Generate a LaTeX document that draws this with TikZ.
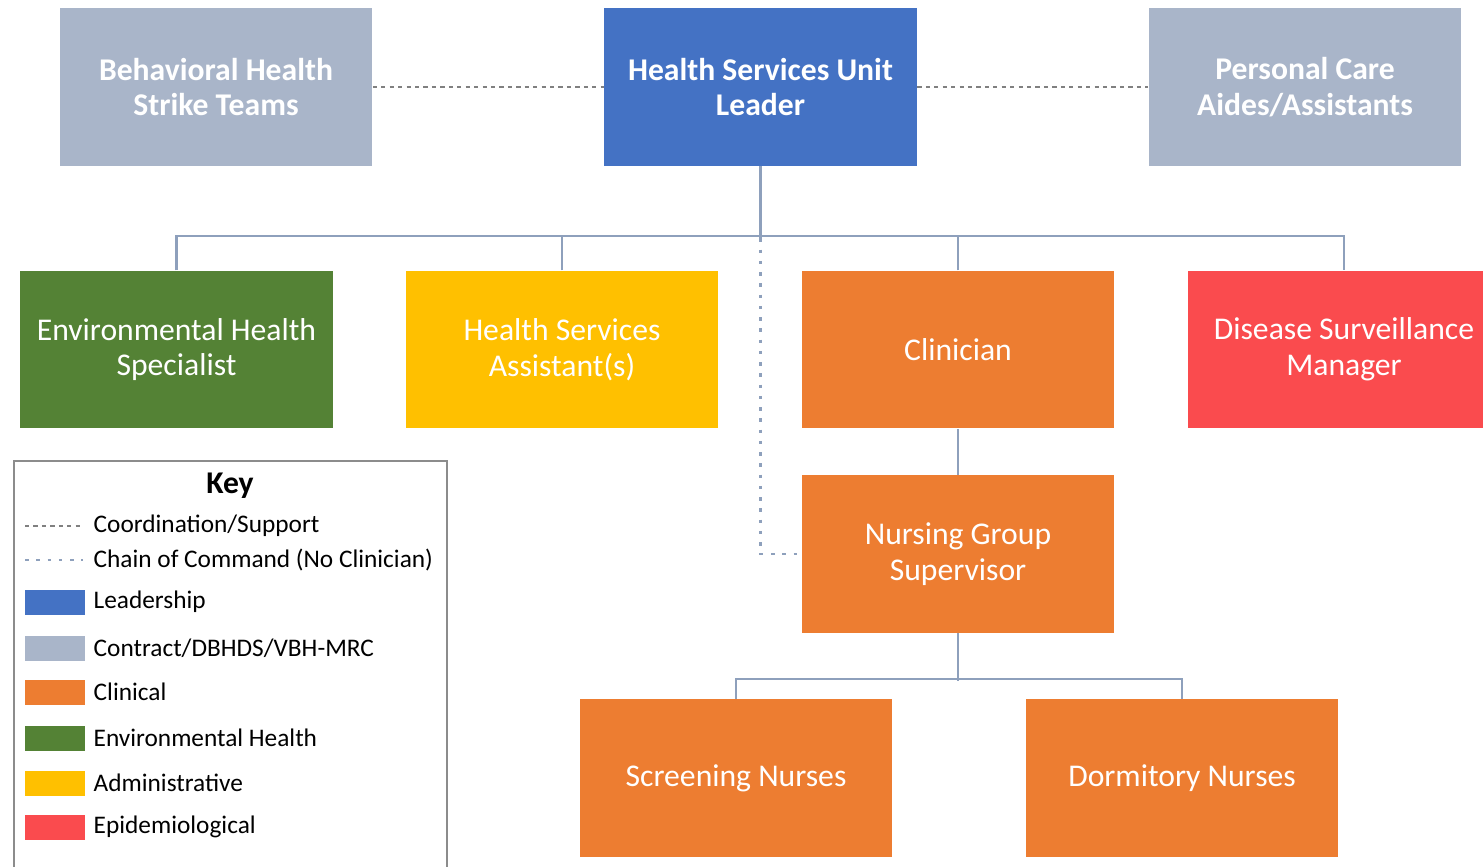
\documentclass[tikz,border=0pt]{standalone}
\usepackage{fontspec}
\setmainfont{Carlito}
\usepackage{xcolor}
\definecolor{lead}{HTML}{4472C4}
\definecolor{contr}{HTML}{A9B5C9}
\definecolor{clin}{HTML}{ED7D31}
\definecolor{envh}{HTML}{548235}
\definecolor{admin}{HTML}{FFC000}
\definecolor{epi}{HTML}{FA4B4E}
\definecolor{linec}{HTML}{8EA0BC}
\definecolor{keyline}{HTML}{8C8C8C}

\begin{document}
\begin{tikzpicture}[x=0.01cm,y=-0.01cm,
    unit/.style={minimum width=3.12cm,minimum height=1.57cm,inner sep=0pt,
      text=white,align=center,font=\fontsize{9}{10.2}\selectfont},
    topunit/.style={unit,font=\fontsize{9}{10.2}\selectfont\bfseries},
    cmd/.style={linec,line width=0.6pt},
    nocl/.style={linec,line width=0.6pt,dash pattern=on 1pt off 2.2pt},
    coord/.style={gray,line width=0.6pt,dash pattern=on 1.2pt off 1.2pt},
    keytext/.style={anchor=west,inner sep=0pt,font=\fontsize{7.2}{8}\selectfont}]
    \useasboundingbox (0,0) rectangle (1483,866);

    %/ Top row
    \node[topunit,fill=contr] (bhst) at (216,87) {Behavioral Health\\Strike Teams};
    \node[topunit,fill=lead] (hsul) at (760.5,87) {Health Services Unit\\Leader};
    \node[topunit,fill=contr] (pca) at (1305,87) {Personal Care\\Aides/Assistants};

    %/ Second row
    \node[unit,fill=envh] (ehs) at (176.5,349.5) {Environmental Health\\Specialist};
    \node[unit,fill=admin] (hsa) at (562,349.5) {Health Services\\Assistant(s)};
    \node[unit,fill=clin] (clinician) at (958,349.5) {Clinician};
    \node[unit,fill=epi] (dsm) at (1344,349.5) {Disease Surveillance\\Manager};

    %/ Nursing
    \node[unit,fill=clin] (ngs) at (958,554) {Nursing Group\\Supervisor};
    \node[unit,fill=clin] (scr) at (736,778) {Screening Nurses};
    \node[unit,fill=clin] (dorm) at (1182,778) {Dormitory Nurses};

    %/ Coordination
    \draw[coord] (bhst) -- (hsul);
    \draw[coord] (hsul) -- (pca);

    %/ Chain of command
    \path (hsul.south) ++(0,72) coordinate (bus);
    \draw[cmd] (hsul.south) -- (bus);
    \draw[cmd] (ehs.north) -- ++(0,-34) -| (dsm.north);
    \draw[cmd] (hsa.north) -- ++(0,-34);
    \draw[cmd] (clinician.north) -- ++(0,-34);
    \draw[cmd] (clinician) -- (ngs);
    \draw[cmd] (ngs.south) -- ++(0,48) coordinate (nbus);
    \draw[cmd] (scr.north) -- ++(0,-20) -| (dorm.north);
    \draw[nocl] (bus) |- (ngs.west);

    %/ Key
    \draw[keyline,line width=0.6pt] (14,461) rectangle (447,900);
    \node[font=\fontsize{9}{10}\selectfont\bfseries] (keyhead) at (230,486) {Key};
    \draw[coord] (25,526) -- (83,526);
    \node[keytext] (keycoord) at (93,526) {Coordination/Support};
    \draw[nocl] (25,560) -- (83,560);
    \node[keytext] (keycmd) at (93,560) {Chain of Command (No Clinician)};
    \foreach \y/\c/\t in {
      602/lead/Leadership,
      648/contr/{Contract/DBHDS/VBH-MRC},
      692/clin/Clinical,
      738/envh/Environmental Health,
      783/admin/Administrative,
      827/epi/Epidemiological} {
        \fill[\c] (25,\y-12.5) rectangle (85,\y+12.5);
        \node[keytext] (key\y) at (93,\y) {\t};
    }
\end{tikzpicture}
\end{document}
